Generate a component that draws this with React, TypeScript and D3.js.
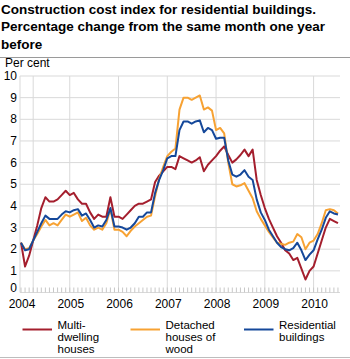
import React from "react";
import * as d3 from "d3";

const titleLines = [
  "Construction cost index for residential buildings.",
  "Percentage change from the same month one year",
  "before",
];
const yUnit = "Per cent";
const yTicks = [0, 1, 2, 3, 4, 5, 6, 7, 8, 9, 10];
const yearLabels = ["2004", "2005", "2006", "2007", "2008", "2009", "2010"];

// Monthly values, Jan 2004 .. Jul 2010
const multiDwelling = [
  2.3, 1.2, 1.7, 2.4, 3.1, 3.9, 4.4, 4.2, 4.2, 4.3, 4.5, 4.7,
  4.5, 4.6, 4.3, 4.1, 4.1, 3.7, 3.4, 3.6, 3.5, 3.5, 4.4, 3.5,
  3.5, 3.4, 3.6, 3.8, 4.0, 4.1, 4.1, 4.2, 4.3, 5.1, 5.4, 5.6,
  5.8, 5.8, 5.7, 6.3, 6.2, 6.1, 6.0, 6.1, 6.25, 5.6, 5.9, 6.1,
  6.3, 6.55, 6.75, 6.35, 6.0, 6.15, 6.35, 6.6, 6.3, 6.6, 5.2, 4.5,
  3.9, 3.4, 3.0, 2.6, 2.3, 1.95, 1.8, 1.5, 1.6, 1.1, 0.6, 1.0,
  1.2, 1.8, 2.4, 3.0, 3.4, 3.3, 3.2,
];
const detachedWood = [
  2.3, 2.0, 2.05, 2.4, 2.7, 3.05, 3.35, 3.1, 3.2, 3.1, 3.35, 3.6,
  3.5, 3.6, 3.7, 3.3, 3.45, 3.1, 2.9, 3.0, 2.9, 3.2, 3.85, 2.9,
  2.9, 2.8, 2.6, 2.85, 3.05, 3.2, 3.35, 3.5, 3.55, 4.45, 5.25, 5.8,
  6.3, 6.5, 6.65, 8.45, 9.0, 9.0, 8.9, 9.0, 9.1, 8.45, 8.55, 8.4,
  7.5, 7.6, 7.35, 6.0, 5.0, 4.9, 4.95, 5.05, 4.7, 4.35, 3.75, 3.4,
  3.1, 2.8, 2.55, 2.3, 2.25, 2.2, 2.3, 2.35, 2.7, 2.55, 2.0, 2.3,
  2.4, 2.7, 3.2, 3.8, 3.85, 3.8, 3.65,
];
const residential = [
  2.3, 1.95, 2.0, 2.4, 2.8, 3.2, 3.55, 3.4, 3.4, 3.4, 3.6, 3.75,
  3.7, 3.8, 3.85, 3.55, 3.65, 3.35, 3.0, 3.1, 3.05, 3.35, 3.9, 3.05,
  3.05, 3.0, 2.9, 3.0, 3.2, 3.5, 3.5, 3.7, 3.7, 4.6, 5.2, 5.65,
  6.2, 6.3, 6.3, 7.5, 7.9, 7.9, 7.8, 7.9, 7.95, 7.4, 7.6, 7.5,
  7.1, 7.15, 7.15, 6.1, 5.45, 5.35, 5.45, 5.65, 5.35, 5.2, 4.3, 3.7,
  3.35, 2.9, 2.6, 2.3, 2.1, 2.0, 1.95, 2.05, 2.3, 1.95, 1.5, 1.75,
  1.95, 2.45, 2.9, 3.45, 3.75, 3.65, 3.6,
];

const seriesNames = [["Multi-", "dwelling", "houses"], ["Detached", "houses of", "wood"], ["Residential", "buildings"]];
const seriesColors = ["#a41e2d", "#f7a233", "#15489a"];
const seriesData = [multiDwelling, detachedWood, residential];

const FONT = "'Liberation Sans', Arial, sans-serif";

export default function App() {
  const left = 20;
  const right = 340;
  const top = 76;
  const bottom = 292.5;
  const x = d3.scaleLinear().domain([0, 78.5]).range([21, 340]);
  const y = d3.scaleLinear().domain([0, 10]).range([bottom, top]);
  const line = d3
    .line<number>()
    .x((_, i) => x(i))
    .y((d) => y(d));

  const months = d3.range(0, 79);
  const yearIdx = yearLabels.map((_, k) => k * 12);
  const vGrid = [3, ...yearIdx.slice(1)];

  const legendX = [22.5, 130.5, 244];

  return (
    <svg
      width={350}
      height={359}
      style={{ position: "absolute", left: 0, top: 0, fontFamily: FONT }}
    >
      <rect width={350} height={359} fill="#fff" />
      {titleLines.map((t, i) => (
        <text key={i} x={1} y={14 + i * 17.3} fontSize={13.5} fontWeight="bold" fill="#000">
          {t}
        </text>
      ))}
      <line x1={0} x2={350} y1={57.5} y2={57.5} stroke="#9a9a9a" strokeWidth={1} />
      <text x={5} y={67} fontSize={12} fill="#000">
        {yUnit}
      </text>

      {/* grid */}
      {yTicks.map((v) => (
        <line key={v} x1={left} x2={right} y1={y(v)} y2={y(v)} stroke="#d9d9d9" strokeWidth={1} />
      ))}
      <line x1={left} x2={left} y1={top} y2={bottom} stroke="#d9d9d9" strokeWidth={1} />
      {vGrid.map((m) => (
        <line key={m} x1={x(m)} x2={x(m)} y1={top} y2={bottom} stroke="#d9d9d9" strokeWidth={1} />
      ))}
      {months.map((m) => (
        <line key={m} x1={x(m)} x2={x(m)} y1={bottom - 5} y2={bottom} stroke="#c8c8c8" strokeWidth={1} />
      ))}

      {yTicks.map((v) => (
        <text key={v} x={17} y={v === 0 ? y(v) - 1 : y(v) + 4} fontSize={12} textAnchor="end" fill="#000">
          {v}
        </text>
      ))}
      {yearLabels.map((l, k) => (
        <text key={l} x={x(yearIdx[k]) + 1} y={307.5} fontSize={12} textAnchor="middle" fill="#000">
          {l}
        </text>
      ))}

      {seriesData.map((s, k) => (
        <path key={k} d={line(s) || ""} fill="none" stroke={seriesColors[k]} strokeWidth={2} strokeLinejoin="round" />
      ))}

      {/* legend */}
      {seriesNames.map((lines, k) => (
        <g key={k}>
          <line x1={legendX[k]} x2={legendX[k] + 29.5} y1={329.5} y2={329.5} stroke={seriesColors[k]} strokeWidth={2} />
          {lines.map((t, j) => (
            <text key={j} x={legendX[k] + 35} y={329 + j * 12} fontSize={11.5} fill="#000">
              {t}
            </text>
          ))}
        </g>
      ))}
      <line x1={0} x2={350} y1={357.5} y2={357.5} stroke="#bdbdbd" strokeWidth={1} />
    </svg>
  );
}
